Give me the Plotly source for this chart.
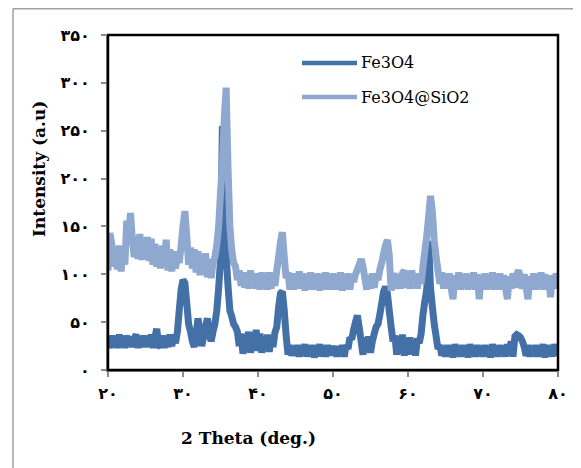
import plotly.graph_objects as go

# 2-theta grid (deg), 0.25 deg step from 20 to 80
two_theta = [20 + 0.25 * i for i in range(241)]

fe3o4 = [
    30, 23, 36, 25, 35, 23, 37, 24, 34, 23, 36, 25, 35, 24, 33, 37, 23, 35, 24, 36,
    24, 35, 25, 37, 23, 34, 43, 26, 24, 36, 23, 35, 24, 37, 25, 35, 28, 40, 62, 84,
    94, 91, 70, 48, 40, 30, 24, 38, 54, 40, 25, 35, 45, 54, 38, 30, 40, 48, 62, 85,
    115, 255, 142, 120, 88, 62, 56, 48, 45, 40, 25, 38, 17, 33, 20, 40, 18, 35, 22, 42,
    20, 38, 18, 35, 22, 37, 19, 36, 24, 39, 45, 66, 80, 82, 62, 36, 16, 26, 15, 24,
    15, 26, 14, 25, 16, 27, 14, 25, 15, 26, 13, 25, 16, 27, 14, 25, 14, 26, 15, 25,
    16, 25, 14, 25, 15, 26, 14, 26, 22, 34, 32, 42, 50, 57, 44, 30, 16, 34, 22, 35,
    18, 30, 38, 45, 48, 58, 70, 82, 87, 80, 62, 45, 30, 36, 16, 35, 18, 37, 15, 32,
    16, 34, 17, 30, 15, 33, 28, 38, 58, 72, 84, 135, 86, 66, 48, 35, 22, 26, 15, 25,
    14, 26, 15, 25, 13, 27, 15, 24, 14, 26, 15, 25, 13, 27, 15, 25, 14, 26, 15, 24,
    14, 26, 15, 25, 13, 27, 15, 24, 14, 26, 15, 25, 14, 27, 18, 30, 14, 35, 37, 36,
    34, 30, 24, 15, 26, 14, 25, 15, 26, 14, 25, 15, 27, 13, 26, 15, 25, 14, 27, 15,
    25,
]

fe3o4_sio2 = [
    104, 143, 132, 108, 128, 105, 130, 103, 125, 110, 156, 140, 164, 136, 118, 140, 116, 142, 115, 138,
    116, 139, 114, 137, 110, 132, 108, 128, 106, 130, 110, 136, 104, 126, 103, 124, 106, 120, 112, 130,
    150, 166, 140, 110, 128, 106, 126, 102, 124, 99, 120, 100, 122, 97, 116, 96, 112, 118, 130, 150,
    185, 215, 262, 295, 212, 150, 125, 112, 108, 94, 104, 88, 102, 86, 101, 85, 104, 88, 99, 85,
    101, 84, 102, 86, 100, 84, 102, 85, 99, 88, 104, 118, 134, 144, 118, 96, 102, 84, 101, 84,
    100, 85, 103, 85, 101, 83, 99, 86, 102, 84, 100, 85, 101, 83, 99, 86, 102, 84, 99, 85,
    101, 84, 99, 85, 102, 83, 100, 86, 101, 84, 99, 92, 100, 105, 110, 116, 108, 96, 84, 99,
    85, 101, 86, 100, 94, 105, 112, 122, 130, 136, 120, 83, 96, 101, 85, 99, 85, 101, 104, 86,
    99, 85, 104, 88, 100, 85, 101, 90, 108, 125, 140, 160, 182, 165, 135, 118, 104, 90, 102, 85,
    100, 85, 101, 86, 74, 99, 85, 102, 84, 100, 86, 101, 84, 99, 85, 102, 84, 100, 74, 98,
    85, 101, 84, 99, 86, 102, 84, 100, 85, 101, 84, 99, 86, 74, 98, 85, 101, 86, 100, 104,
    97, 85, 100, 86, 74, 98, 85, 101, 84, 99, 86, 102, 84, 100, 85, 97, 76, 99, 85, 101,
    90,
]

series_names = ["Fe3O4", "Fe3O4@SiO2"]
series_colors = ["#4470A8", "#8EA8CF"]

x_tickvals = [20, 30, 40, 50, 60, 70, 80]
x_ticktext = ["۲۰", "۳۰", "۴۰", "۵۰", "۶۰", "۷۰", "۸۰"]
y_tickvals = [0, 50, 100, 150, 200, 250, 300, 350]
y_ticktext = ["۰", "۵۰", "۱۰۰", "۱۵۰", "۲۰۰", "۲۵۰", "۳۰۰", "۳۵۰"]

# page is drawn with an 8px body margin: figure origin sits at page (8, 8)
OFF = 8
W, H = 581 - OFF, 468 - OFF
L, R, T, B = 108 - OFF, 23, 35 - OFF, 98
PW, PH = W - L - R, H - T - B


def px_x(px):  # page pixel -> paper x
    return (px - OFF - L) / PW


def px_y(py):  # page pixel -> paper y
    return (H - B - (py - OFF)) / PH


fig = go.Figure()
for name, ys, col in zip(series_names, [fe3o4, fe3o4_sio2], series_colors):
    fig.add_trace(go.Scatter(x=two_theta, y=ys, mode="lines", name=name,
                             line=dict(color=col, width=7, simplify=False),
                             showlegend=False))

axis_common = dict(showgrid=False, zeroline=False, showline=True, linecolor="#8C8C8C",
                   linewidth=2, ticks="outside", ticklen=5, tickwidth=2, tickcolor="#8C8C8C",
                   tickfont=dict(family="DejaVu Sans", size=16, color="black"))

fig.update_xaxes(range=[20, 80], tickvals=x_tickvals,
                 ticktext=["<b>%s</b>" % t for t in x_ticktext],
                 ticklabelstandoff=3, **axis_common)
fig.update_yaxes(range=[0, 350], tickvals=y_tickvals,
                 ticktext=["<b>%s</b>" % t for t in y_ticktext],
                 ticklabelstandoff=8, **axis_common)

shapes = [
    # plot area black frame
    dict(type="rect", xref="paper", yref="paper", x0=0, y0=0, x1=1, y1=1,
         line=dict(color="black", width=2.5)),
    # outer chart border (top and left visible)
    dict(type="line", xref="paper", yref="paper", x0=px_x(13), y0=px_y(8.8), x1=px_x(600), y1=px_y(8.8),
         line=dict(color="#A0A0A0", width=1.5)),
    dict(type="line", xref="paper", yref="paper", x0=px_x(13), y0=px_y(8.8), x1=px_x(13), y1=px_y(490),
         line=dict(color="#A0A0A0", width=1.5)),
]
annotations = []
# legend
for i, (name, col) in enumerate(zip(series_names, series_colors)):
    ly = 63 + 34 * i
    shapes.append(dict(type="line", xref="paper", yref="paper", x0=px_x(302), x1=px_x(357),
                       y0=px_y(ly), y1=px_y(ly), line=dict(color=col, width=4.5)))
    annotations.append(dict(xref="paper", yref="paper", x=px_x(359), y=px_y(ly), text=name,
                            showarrow=False, xanchor="left", yanchor="middle",
                            font=dict(family="DejaVu Serif", size=16, color="black")))

annotations.append(dict(xref="paper", yref="paper", x=px_x(39), y=px_y(169),
                        text="<b>Intensity (a.u)</b>", textangle=-90, showarrow=False,
                        xanchor="center", yanchor="middle",
                        font=dict(family="DejaVu Serif", size=17, color="black")))
annotations.append(dict(xref="paper", yref="paper", x=px_x(248), y=px_y(438),
                        text="<b>2 Theta (deg.)</b>", showarrow=False,
                        xanchor="center", yanchor="middle",
                        font=dict(family="DejaVu Serif", size=17, color="black")))

fig.update_layout(width=W, height=H, margin=dict(l=L, r=R, t=T, b=B),
                  paper_bgcolor="white", plot_bgcolor="white",
                  shapes=shapes, annotations=annotations, showlegend=False)

fig.write_html("out.html")
